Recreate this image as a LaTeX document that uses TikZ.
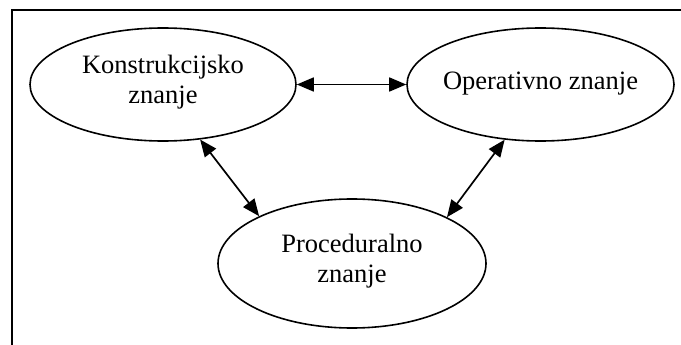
\documentclass[tikz,border=0pt]{standalone}
\usepackage{fontspec}
\setmainfont{Liberation Serif}
\usetikzlibrary{arrows.meta,shapes.geometric}
\begin{document}
\begin{tikzpicture}[x=1pt,y=-1pt,
  oval/.style={draw,ellipse,line width=1.6pt,inner sep=0pt},
  lbl/.style={align=center,font=\fontsize{26.5}{30}\selectfont,inner sep=0pt},
  link/.style={line width=1.7pt,{Triangle[length=17pt,width=14pt]}-{Triangle[length=17pt,width=14pt]}}]
\useasboundingbox (0,0) rectangle (681,345);
\draw[line width=1.7pt] (12,345) -- (12,10) -- (681,10);
\node[oval,minimum width=266pt,minimum height=113pt] (k) at (163,84.5) {};
\node[oval,minimum width=267pt,minimum height=113pt] (o) at (540.5,84.5) {};
\node[oval,minimum width=268pt,minimum height=129pt] (p) at (352,263.5) {};
\node[lbl,yshift=2.5pt] (kt) at (k) {Konstrukcijsko\\znanje};
\node[lbl,yshift=1pt] (ot) at (o) {Operativno znanje};
\node[lbl,yshift=2.5pt] (pt) at (p) {Proceduralno\\znanje};
\draw[link] (k.east) -- (o.west);
\draw[link] (k.-56.3) -- (p.153.7);
\draw[link] (o.-123.3) -- (p.26.1);
\end{tikzpicture}
\end{document}
